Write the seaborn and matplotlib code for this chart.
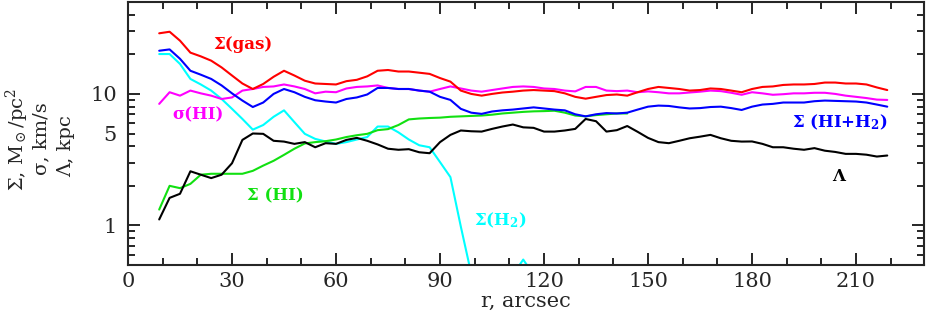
import matplotlib
matplotlib.use("Agg")
import matplotlib.pyplot as plt
import matplotlib.ticker as mticker
import pandas as pd
import seaborn as sns

# radius grid, arcsec
r = [9, 12, 15, 18, 21, 24, 27, 30, 33, 36,
     39, 42, 45, 48, 51, 54, 57, 60, 63, 66,
     69, 72, 75, 78, 81, 84, 87, 90, 93, 96,
     99, 102, 105, 108, 111, 114, 117, 120, 123, 126,
     129, 132, 135, 138, 141, 144, 147, 150, 153, 156,
     159, 162, 165, 168, 171, 174, 177, 180, 183, 186,
     189, 192, 195, 198, 201, 204, 207, 210, 213, 216,
     219]

sigma_gas = [28.9, 29.7, 25.4, 20.6, 19.3, 17.9, 15.9, 13.8, 12.0, 10.9,
             11.9, 13.5, 15.0, 13.8, 12.6, 12.0, 11.9, 11.8, 12.5, 12.8,
             13.6, 15.0, 15.2, 14.8, 14.8, 14.5, 14.2, 13.2, 12.4, 10.6,
             10.0, 9.7, 10.0, 10.25, 10.4, 10.6, 10.7, 10.6, 10.5, 10.1,
             9.5, 9.2, 9.5, 9.8, 9.9, 9.7, 10.3, 10.9, 11.3, 11.1,
             10.9, 10.6, 10.7, 11.0, 10.9, 10.6, 10.3, 10.9, 11.3, 11.4,
             11.7, 11.8, 11.8, 11.9, 12.2, 12.2, 12.0, 12.0, 11.8, 11.2,
             10.7]

disp_hi = [8.4, 10.3, 9.7, 10.6, 10.1, 9.7, 9.15, 9.4, 10.6, 10.9,
           11.3, 11.4, 11.8, 11.4, 10.9, 10.1, 10.4, 10.3, 11.0, 11.3,
           11.4, 11.6, 11.1, 10.9, 10.9, 10.6, 10.4, 10.9, 11.4, 11.0,
           10.6, 10.4, 10.7, 11.0, 11.3, 11.4, 11.3, 11.0, 10.9, 10.6,
           10.45, 11.3, 11.3, 10.6, 10.5, 10.6, 10.3, 10.45, 10.3, 10.1,
           10.1, 10.25, 10.4, 10.6, 10.5, 10.2, 9.85, 10.3, 10.1, 9.85,
           9.95, 10.1, 10.1, 10.2, 10.2, 10.0, 9.7, 9.5, 9.3, 9.05,
           9.0]

sigma_hi_h2 = [21.3, 21.8, 18.5, 15.0, 14.0, 13.0, 11.6, 10.1, 8.9, 7.95,
               8.6, 10.0, 10.9, 10.3, 9.5, 8.95, 8.75, 8.6, 9.15, 9.4,
               9.9, 11.1, 11.1, 10.9, 10.9, 10.6, 10.4, 9.5, 9.0, 7.7,
               7.2, 7.05, 7.35, 7.5, 7.6, 7.75, 7.9, 7.75, 7.6, 7.5,
               7.0, 6.75, 7.0, 7.15, 7.1, 7.2, 7.6, 8.0, 8.15, 8.1,
               7.9, 7.75, 7.8, 7.95, 8.0, 7.8, 7.55, 8.0, 8.3, 8.4,
               8.6, 8.6, 8.6, 8.8, 8.9, 8.85, 8.8, 8.75, 8.6, 8.3,
               8.0]

# H2 and HI profiles are shorter than the others
sigma_h2 = [20.1, 20.1, 16.9, 13.0, 11.8, 10.6, 9.15, 7.7, 6.45, 5.35,
            5.8, 6.7, 7.5, 6.1, 4.97, 4.55, 4.35, 4.17, 4.3, 4.5,
            4.7, 5.65, 5.65, 5.1, 4.5, 4.07, 3.93, 3.03, 2.33, 0.98,
            0.43, 0.38, 0.36, 0.38, 0.42, 0.55, 0.42]

sigma_hi = [1.32, 2.0, 1.92, 2.07, 2.43, 2.47, 2.47, 2.47, 2.47, 2.6,
            2.85, 3.1, 3.44, 3.83, 4.2, 4.3, 4.37, 4.5, 4.7, 4.85,
            4.97, 5.3, 5.4, 5.8, 6.4, 6.5, 6.56, 6.6, 6.7, 6.75,
            6.8, 6.85, 6.95, 7.1, 7.2, 7.3, 7.37, 7.4, 7.45, 7.2,
            6.85, 6.75, 6.9, 7.0, 7.1, 7.1]

lam = [1.11, 1.62, 1.74, 2.58, 2.43, 2.29, 2.43, 2.97, 4.47, 5.0,
       4.97, 4.4, 4.34, 4.17, 4.3, 3.93, 4.22, 4.17, 4.47, 4.63,
       4.4, 4.13, 3.83, 3.76, 3.8, 3.6, 3.54, 4.3, 4.88, 5.27,
       5.2, 5.17, 5.42, 5.65, 5.85, 5.57, 5.52, 5.17, 5.17, 5.27,
       5.42, 6.45, 6.2, 5.17, 5.3, 5.7, 5.15, 4.63, 4.3, 4.22,
       4.4, 4.6, 4.73, 4.88, 4.6, 4.4, 4.34, 4.35, 4.17, 3.93,
       3.93, 3.83, 3.76, 3.87, 3.7, 3.62, 3.5, 3.5, 3.45, 3.34,
       3.4]

series = {
    "h2": sigma_h2,
    "hi": sigma_hi,
    "disp": disp_hi,
    "gas": sigma_gas,
    "tot": sigma_hi_h2,
    "lam": lam,
}
colors = {
    "h2": "#00ffff",
    "hi": "#11e011",
    "disp": "#ff00ff",
    "gas": "#ff0000",
    "tot": "#0000ff",
    "lam": "#000000",
}

frames = []
for name, vals in series.items():
    frames.append(pd.DataFrame({"r": r[:len(vals)], "val": vals, "curve": name}))
df = pd.concat(frames, ignore_index=True)

sns.set_style("ticks")
plt.rcParams["font.family"] = ["DejaVu Serif"]
plt.rcParams["mathtext.fontset"] = "dejavuserif"

fig = plt.figure(figsize=(9.26, 3.19), dpi=100)
ax = fig.add_axes([128 / 926, 54 / 319, 796 / 926, 263 / 319])

sns.lineplot(data=df, x="r", y="val", hue="curve", hue_order=list(series),
             palette=colors, estimator=None, legend=False, linewidth=1.5,
             ax=ax)

ax.set_yscale("log")
ax.set_xlim(0, 229.6)
ax.set_ylim(0.5, 50)

ax.xaxis.set_major_locator(mticker.MultipleLocator(30))
ax.xaxis.set_minor_locator(mticker.MultipleLocator(10))
ax.yaxis.set_major_locator(mticker.FixedLocator([1, 10]))
ax.yaxis.set_major_formatter(mticker.FixedFormatter(["1", "10"]))
ax.yaxis.set_minor_locator(mticker.FixedLocator(
    [0.6, 0.7, 0.8, 0.9, 2, 3, 4, 5, 6, 7, 8, 9, 20, 30, 40]))
ax.yaxis.set_minor_formatter(mticker.FuncFormatter(
    lambda v, p: "5" if abs(v - 5) < 1e-6 else ""))

ax.tick_params(which="both", direction="in", top=True, right=True,
               width=1.4, labelsize=15)
ax.tick_params(which="major", length=8.5)
ax.tick_params(which="minor", length=5)
ax.tick_params(axis="x", which="both", pad=5)
ax.tick_params(axis="y", which="both", pad=8)
for sp in ax.spines.values():
    sp.set_linewidth(1.5)

ax.set_xlabel("r, arcsec", fontsize=15, labelpad=1)
ax.set_ylabel("")

lab = dict(fontsize=12, fontweight="bold", ha="center", va="center")
ax.text(33.2, 23.9, "Σ(gas)", color=colors["gas"], **lab)
ax.text(20.3, 6.96, "σ(HI)", color=colors["disp"], **lab)
ax.text(42.4, 1.675, "Σ (HI)", color=colors["hi"], **lab)
ax.text(107.4, 1.1, r"Σ(H$_\mathbf{2}$)", color=colors["h2"], **lab)
ax.text(205.4, 6.05, r"Σ (HI+H$_\mathbf{2}$)", color=colors["tot"], **lab)
ax.text(205, 2.36, "Λ", color=colors["lam"], **lab)

ylab = dict(fontsize=14, rotation=90, ha="center", va="center")
fig.text(17 / 926, 1 - 140 / 319, r"Σ, M$_\odot$/pc$^2$", **ylab)
fig.text(41 / 926, 1 - 139 / 319, "σ, km/s", **ylab)
fig.text(66 / 926, 1 - 146 / 319, "Λ, kpc", **ylab)

fig.savefig("out.png", dpi=100)
